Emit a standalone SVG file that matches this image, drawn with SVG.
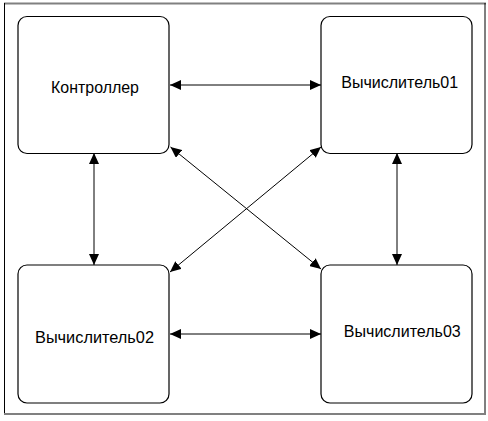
<svg xmlns="http://www.w3.org/2000/svg" width="488" height="421" viewBox="0 0 488 421">
<style>
.box{fill:#fff;stroke:#000;stroke-width:1.2}
.lbl{font-family:"Liberation Sans",Arial,sans-serif;font-size:17px;fill:#000;text-anchor:middle}
.conn{stroke:#000;stroke-width:1;fill:none;marker-start:url(#ah);marker-end:url(#ah)}
</style>
<defs>
<marker id="ah" markerUnits="userSpaceOnUse" markerWidth="11" markerHeight="10" refX="11" refY="5" orient="auto-start-reverse" viewBox="0 0 11 10">
<path d="M0,0 L11,5 L0,10 z" fill="#000"/>
</marker>
</defs>
<rect width="488" height="421" fill="#fff"/>
<g id="frame">
<line x1="4" y1="3.5" x2="486" y2="3.5" stroke="#808080" stroke-width="2"/>
<line x1="4.5" y1="3" x2="4.5" y2="414" stroke="#000" stroke-width="1"/>
<line x1="485" y1="3" x2="485" y2="414" stroke="#000" stroke-width="1"/>
<line x1="4" y1="414" x2="486" y2="414" stroke="#808080" stroke-width="2"/>
</g>
<g id="connectors">
<line class="conn" x1="170" y1="85" x2="321" y2="85"/>
<line class="conn" x1="170" y1="334" x2="321" y2="334"/>
<line class="conn" x1="94" y1="153" x2="94" y2="265"/>
<line class="conn" x1="397" y1="153" x2="397" y2="265"/>
<line class="conn" x1="170.5" y1="147" x2="321" y2="269"/>
<line class="conn" x1="321" y1="147" x2="170" y2="272"/>
</g>
<g id="kontroller">
<rect class="box" x="18" y="16.5" width="151" height="137" rx="9"/>
<text class="lbl" x="95" y="93" textLength="88" lengthAdjust="spacingAndGlyphs">Контроллер</text>
</g>
<g id="vych01">
<rect class="box" x="321" y="16.5" width="151" height="137" rx="9"/>
<text class="lbl" x="399.7" y="88.3" textLength="117" lengthAdjust="spacingAndGlyphs">Вычислитель01</text>
</g>
<g id="vych02">
<rect class="box" x="18" y="265" width="151" height="138" rx="9"/>
<text class="lbl" x="94.5" y="343" textLength="119" lengthAdjust="spacingAndGlyphs">Вычислитель02</text>
</g>
<g id="vych03">
<rect class="box" x="321" y="265" width="151" height="138" rx="9"/>
<text class="lbl" x="402.3" y="337" textLength="117" lengthAdjust="spacingAndGlyphs">Вычислитель03</text>
</g>
</svg>
